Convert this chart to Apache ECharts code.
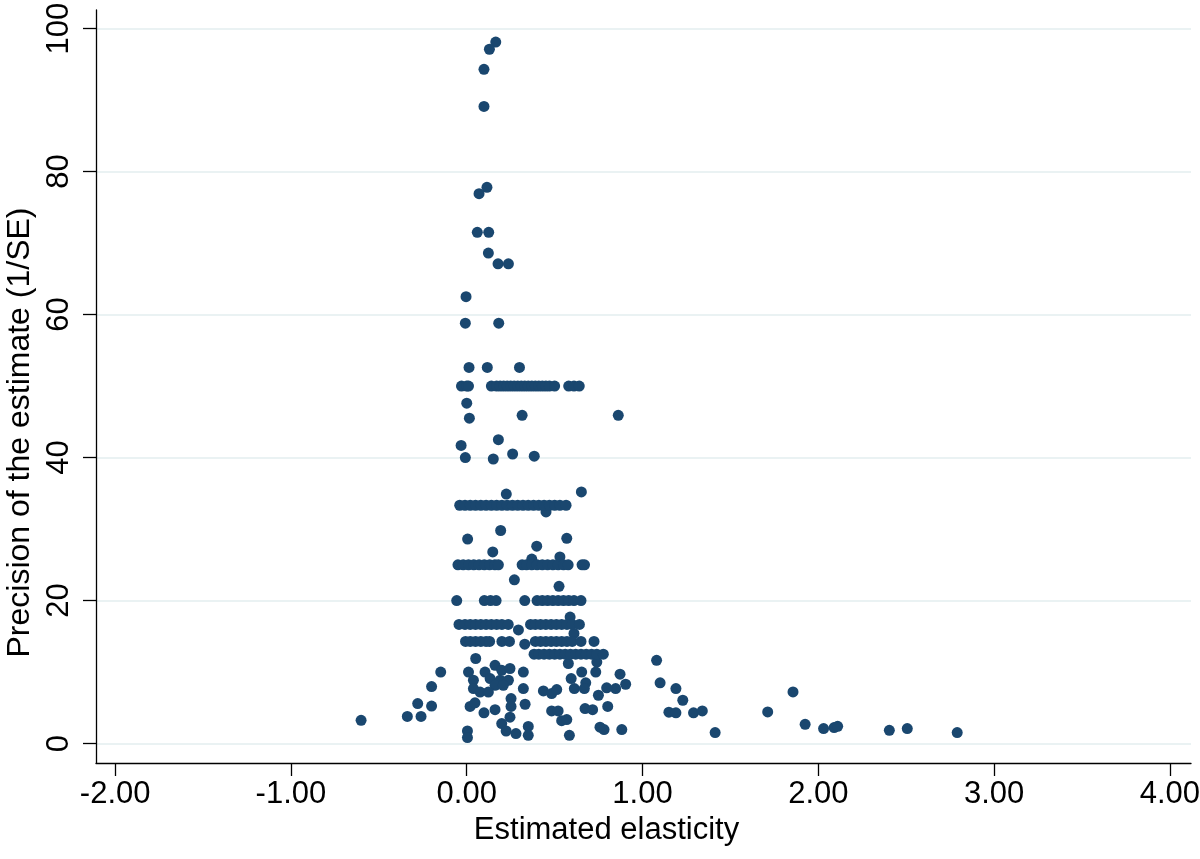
<!DOCTYPE html>
<html><head><meta charset="utf-8">
<script src="https://cdn.jsdelivr.net/npm/echarts@6/dist/echarts.min.js"></script>
<style>html,body{margin:0;padding:0;background:#fff}#chart{width:1200px;height:859px}</style>
</head><body><div id="chart"></div>
<script>
// Tick values
const xTicks = [-2, -1, 0, 1, 2, 3, 4];
const yTicks = [0, 20, 40, 60, 80, 100];

// Individual estimates: [elasticity, precision (1/SE)]
const isolatedPoints = [
  [0.165, 98.1], [0.129, 97.1], [0.098, 94.3], [0.098, 89.1], [0.115, 77.8], [0.07, 76.9],
  [0.06, 71.5], [0.125, 71.5], [0.123, 68.6], [0.178, 67.1], [0.237, 67.1],
  [-0.004, 62.5], [-0.008, 58.8], [0.182, 58.8], [0.013, 52.6], [0.117, 52.6], [0.30, 52.6],
  [0.0, 47.6], [0.015, 45.5], [0.315, 45.9], [0.862, 45.9], [0.18, 42.5], [-0.032, 41.7],
  [-0.008, 40.0], [0.151, 39.8], [0.261, 40.5], [0.384, 40.2],
  [0.225, 34.9], [0.652, 35.2], [0.451, 32.4], [0.005, 28.6], [0.193, 29.8], [0.569, 28.7],
  [0.148, 26.8], [0.398, 27.6], [0.37, 25.8], [0.53, 26.1], [0.271, 22.9], [0.525, 22.0],
  [0.588, 17.7], [0.294, 15.9], [0.61, 15.4], [0.33, 13.9],
  [0.051, 11.9], [1.08, 11.65], [0.578, 11.2], [0.74, 11.4], [-0.148, 10.0], [0.01, 10.0],
  [0.104, 10.0], [0.161, 10.95], [0.199, 10.25], [0.246, 10.5], [0.038, 8.86], [0.133, 9.1],
  [0.19, 8.86], [0.237, 8.86], [0.161, 8.16], [0.208, 8.16], [0.322, 10.0], [0.654, 10.0],
  [0.734, 10.0], [0.872, 9.7], [0.594, 9.1], [0.677, 8.5], [0.612, 7.7], [0.669, 7.7],
  [0.904, 8.3], [0.847, 7.7], [0.796, 7.8], [1.10, 8.5], [-0.2, 7.97], [0.038, 7.7],
  [0.076, 7.2], [0.123, 7.2], [0.322, 7.7], [0.436, 7.36], [0.483, 7.0], [0.512, 7.55],
  [0.749, 6.76], [0.252, 6.3], [-0.2, 5.25], [0.019, 5.2], [0.047, 5.7], [0.098, 4.3],
  [0.161, 4.75], [0.252, 5.2], [0.332, 5.5], [0.483, 4.56], [0.52, 4.56], [0.673, 4.9],
  [0.716, 4.75], [0.802, 5.2], [0.246, 3.7], [0.199, 2.8], [0.54, 3.2], [0.569, 3.36],
  [0.224, 1.76], [0.28, 1.4], [0.35, 2.4], [0.35, 1.16], [0.584, 1.16], [0.758, 2.3],
  [0.781, 1.96], [0.882, 1.96], [0.004, 1.76], [0.004, 0.84],
  [1.19, 7.7], [1.229, 6.06], [1.15, 4.4], [1.19, 4.3], [1.29, 4.3], [1.34, 4.56],
  [1.413, 1.54], [1.712, 4.43], [1.856, 7.22], [1.925, 2.7], [2.03, 2.1], [2.09, 2.24],
  [2.11, 2.42], [2.404, 1.86], [2.506, 2.1], [2.79, 1.54],
  [-0.601, 3.26], [-0.338, 3.8], [-0.26, 3.8], [-0.279, 5.6]
];

// Estimates sharing the same precision (rows of points)
const rowPrecision = [50, 33.33, 25, 20, 16.67, 14.29, 12.5];
const rowElasticity = [
  [-0.03, 0.0, 0.01, 0.14, 0.17, 0.19, 0.21, 0.23, 0.25, 0.27, 0.29, 0.31, 0.33, 0.35, 0.37, 0.39, 0.41, 0.43, 0.45, 0.47, 0.50, 0.58, 0.61, 0.64],
  [-0.04, -0.01, 0.02, 0.05, 0.08, 0.11, 0.14, 0.17, 0.20, 0.23, 0.26, 0.29, 0.32, 0.35, 0.38, 0.41, 0.44, 0.47, 0.50, 0.53, 0.565],
  [-0.05, -0.02, 0.01, 0.04, 0.07, 0.10, 0.13, 0.16, 0.18, 0.315, 0.34, 0.37, 0.40, 0.43, 0.46, 0.49, 0.52, 0.55, 0.577, 0.656, 0.67],
  [-0.057, 0.10, 0.135, 0.167, 0.33, 0.40, 0.43, 0.46, 0.49, 0.52, 0.55, 0.58, 0.61, 0.65],
  [-0.044, -0.01, 0.02, 0.05, 0.08, 0.11, 0.14, 0.17, 0.20, 0.236, 0.363, 0.39, 0.42, 0.45, 0.48, 0.51, 0.54, 0.57, 0.60, 0.641],
  [-0.007, 0.02, 0.05, 0.08, 0.11, 0.13, 0.20, 0.243, 0.39, 0.42, 0.45, 0.48, 0.51, 0.54, 0.57, 0.60, 0.65, 0.724],
  [0.383, 0.41, 0.44, 0.47, 0.50, 0.53, 0.56, 0.59, 0.62, 0.65, 0.68, 0.71, 0.74, 0.777]
];

const xTitle = 'Estimated elasticity';
const yTitle = 'Precision of the estimate (1/SE)';

const points = isolatedPoints.slice();
rowPrecision.forEach((p, i) => rowElasticity[i].forEach(x => points.push([x, p])));

const FONT = 'Liberation Sans, Arial, Helvetica, sans-serif';
const chart = echarts.init(document.getElementById('chart'), null, {renderer: 'canvas'});
chart.setOption({
  animation: false,
  backgroundColor: '#ffffff',
  grid: {left: 96, right: 9, top: 10, bottom: 96, containLabel: false, outerBoundsMode: 'none'},
  xAxis: {
    type: 'value', min: -2.109, max: 4.12,
    axisLine: {show: true, onZero: false, lineStyle: {color: '#000', width: 1.3}},
    axisTick: {show: true, length: 13, customValues: xTicks, lineStyle: {color: '#000', width: 1.3}},
    axisLabel: {customValues: xTicks, formatter: v => Number(v).toFixed(2), fontSize: 31, color: '#000', margin: 16, fontFamily: FONT},
    splitLine: {show: false},
    name: xTitle, nameLocation: 'middle', nameGap: 49,
    nameTextStyle: {fontSize: 31, color: '#000', fontFamily: FONT, padding: [0, 74, 0, 0]}
  },
  yAxis: {
    type: 'value', min: -2.714, max: 102.59,
    axisLine: {show: true, onZero: false, lineStyle: {color: '#000', width: 1.3}},
    axisTick: {show: true, length: 13, customValues: yTicks, lineStyle: {color: '#000', width: 1.3}},
    axisLabel: {customValues: yTicks, rotate: 90, fontSize: 31, color: '#000', margin: 21, fontFamily: FONT},
    splitLine: {show: true, lineStyle: {color: '#eaf2f3', width: 2}},
    name: yTitle, nameLocation: 'middle', nameRotate: 90, nameGap: 58,
    nameTextStyle: {fontSize: 32, color: '#000', fontFamily: FONT, padding: [0, 92, 0, 0]}
  },
  series: [{
    type: 'scatter',
    data: points,
    symbol: 'circle',
    symbolSize: 11,
    itemStyle: {color: '#1a476f', opacity: 1},
    silent: true
  }]
});
</script>
</body></html>
